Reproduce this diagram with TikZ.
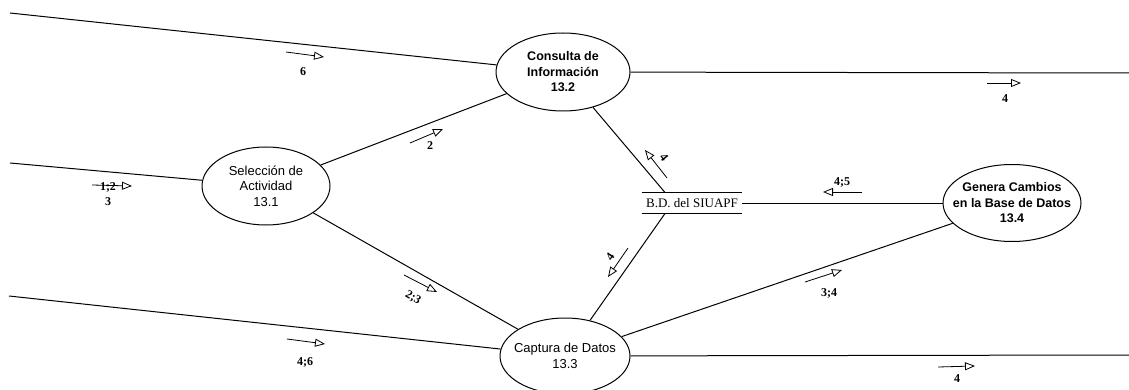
\documentclass[tikz,border=0pt]{standalone}
\usepackage{fontspec}
\setmainfont{Liberation Serif}
\newfontfamily\procfont{Liberation Sans}
\usetikzlibrary{arrows.meta, shapes.geometric, positioning}
\tikzset{
  proc/.style={ellipse, draw, line width=1pt, minimum width=132pt, minimum height=78pt, inner sep=0pt},
  ptext/.style={align=center, font=\procfont\fontsize{13}{15.5}\selectfont},
  store/.style={font=\fontsize{13}{15}\selectfont, inner xsep=4pt, minimum height=20pt},
  flow/.style={->, line width=0.8pt},
  lbl/.style={font=\bfseries\fontsize{12}{15}\selectfont, inner sep=0pt}
}

\begin{document}
\begin{tikzpicture}[x=1pt, y=-1pt, >={Triangle[open, length=10pt, width=8pt]}, line width=1pt, node distance=297pt]
\useasboundingbox (0,0) rectangle (1129,390);
% procesos y almacen
\node[proc, minimum width=128pt, label={[ptext]center:Selección de\\Actividad\\13.1}] (p131) at (266,186) {};
\node[proc, minimum width=134pt, right of=p131, yshift=114pt, label={[ptext, font=\procfont\bfseries\fontsize{12.5}{15.5}\selectfont]center:Consulta de\\Información\\13.2}] (p132) {};
\node[proc, minimum width=130pt, minimum height=76pt, right of=p131, node distance=299pt, yshift=-170pt, label={[ptext]center:Captura de Datos\\13.3}] (p133) {};
\node[store, right of=p131, node distance=426pt, yshift=-17pt] (bd) {B.D. del SIUAPF};
\node[proc, minimum width=138pt, minimum height=77pt, right of=bd, node distance=320pt, label={[ptext, font=\procfont\bfseries\fontsize{12.5}{15.5}\selectfont]center:Genera Cambios\\en la Base de Datos\\13.4}] (p134) {};
\draw[line width=0.8pt] (bd.north west) -- (bd.north east) (bd.south west) -- (bd.south east);

% extremos libres
\coordinate (inA) at (10,13);
\coordinate (inB) at (10,163);
\coordinate (inC) at (9,296);
\coordinate (outA) at (1129,73);
\coordinate (outB) at (1129,355);

% flujos
\draw (inA) -- (p132);
\draw (inB) -- (p131);
\draw (inC) -- (p133);
\draw (p132) -- (outA);
\draw (p133) -- (outB);
\draw (p131) -- (p132);
\draw (p131) -- (p133);
\draw (p133) -- (p134);
\draw (p132) -- ([xshift=-27pt]bd.north);
\draw ([xshift=-27pt]bd.south) -- (p133);
\draw[line width=0.8pt] (bd) -- (p134);

% etiquetas de flujo
\draw[flow] (286,52) -- (324,57);
\node[lbl] (l6) at (303,72) {6};
\draw[flow] (987,83) -- (1021,83);
\node[lbl] (l4a) at (1005,99) {4};
\draw[flow] (92,185) -- (132,186);
\node[lbl, align=center] (l123) at (108,194) {1;2\\3};
\draw[flow] (410,143) -- (443,129);
\node[lbl] (l2) at (430,146) {2};
\draw[flow] (404,275) -- (437,292);
\node[lbl, rotate=-30] (l23) at (413,298) {2;3};
\draw[flow] (667,178) -- (645,150);
\node[lbl, rotate=-52] (l4b) at (664,157) {4};
\draw[flow] (628,248) -- (608,277);
\node[lbl, rotate=55] (l4c) at (610,257) {4};
\draw[flow] (862,192) -- (823,192);
\node[lbl] (l45) at (842,182) {4;5};
\draw[flow] (805,282) -- (842,270);
\node[lbl] (l34) at (829,293) {3;4};
\draw[flow] (938,367) -- (975,366);
\node[lbl] (l4d) at (957,379) {4};
\draw[flow] (287,339) -- (325,344);
\node[lbl] (l46) at (305,362) {4;6};
\end{tikzpicture}
\end{document}
